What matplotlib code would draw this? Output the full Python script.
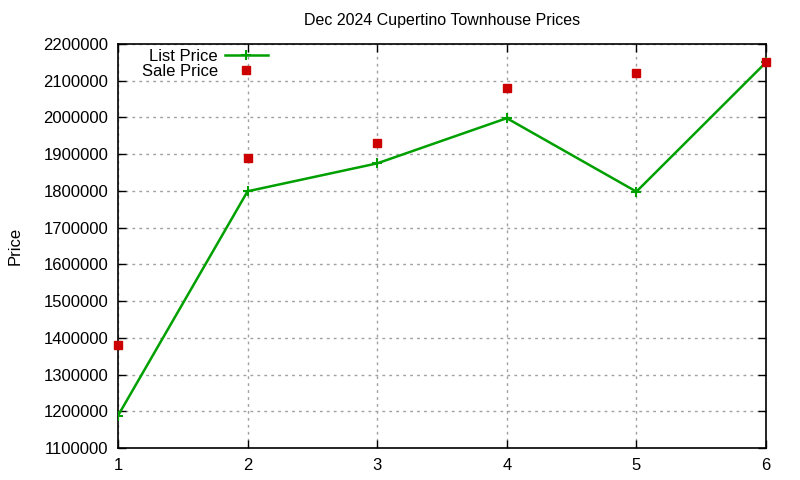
"""Dec 2024 Cupertino townhouse prices, gnuplot-style chart."""

import matplotlib

matplotlib.use("Agg")

import matplotlib.pyplot as plt

list_x = [1, 2, 3, 4, 5, 6]
list_price = [1188000, 1799000, 1875000, 1998000, 1798000, 2150000]

sale_x = [1, 2, 3, 4, 5, 6]
sale_price = [1380000, 1890000, 1930000, 2080000, 2122000, 2150000]

y_ticks = list(range(1100000, 2200001, 100000))
x_ticks = [1, 2, 3, 4, 5, 6]

plt.rcParams["font.family"] = ["Liberation Sans", "DejaVu Sans"]
plt.rcParams["font.size"] = 12

fig = plt.figure(figsize=(8, 4.8), dpi=100)
ax = fig.add_axes([118 / 800, 32 / 480, 648 / 800, 404 / 480])

ax.plot(list_x, list_price, color="#00a000", linewidth=1.8, marker="+",
        markersize=7, markeredgewidth=1.5, label="List Price", zorder=3)
ax.plot(sale_x, sale_price, linestyle="none", marker="s", color="#cc0000",
        markersize=6, label="Sale Price", zorder=4, clip_on=False)

ax.set_xlim(1, 6)
ax.set_ylim(1100000, 2200000)
ax.set_xticks(x_ticks)
ax.set_yticks(y_ticks)
ax.ticklabel_format(axis="y", style="plain", useOffset=False)
ax.tick_params(direction="in", top=True, right=True, length=6, width=1,
               labelsize=12, pad=7)
ax.grid(True, color="#a0a0a0", linestyle=(0, (2, 3)), linewidth=1)
for side in ax.spines.values():
    side.set_linewidth(1.2)

ax.set_title("Dec 2024 Cupertino Townhouse Prices", fontsize=11.5, pad=14)
ax.set_ylabel("Price", fontsize=12, labelpad=15)

# gnuplot-like key: text first, sample to the right
ax.legend(loc="upper right", bbox_to_anchor=((268 - 118) / 648, (448 - 49) / 404),
          frameon=False, markerfirst=False, handlelength=2.6,
          handletextpad=0.4, labelspacing=0.0, borderaxespad=0.0,
          borderpad=0.0, fontsize=12)

fig.savefig("out.png", dpi=100)
plt.close(fig)
